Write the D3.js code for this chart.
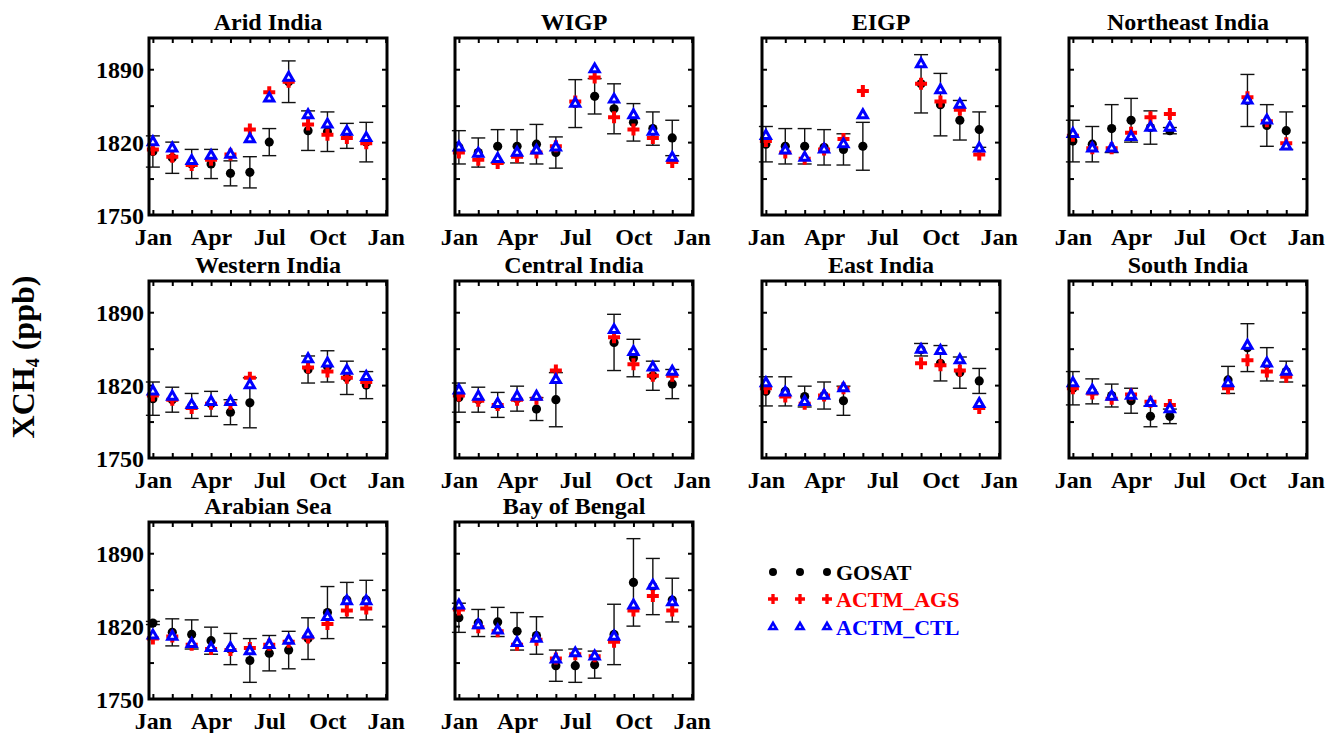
<!DOCTYPE html>
<html lang="en">
<head>
  <meta charset="utf-8" />
  <title>XCH4 seasonal cycle</title>
  <script type="text/javascript" src="https://cdn.jsdelivr.net/npm/d3@7/dist/d3.min.js"></script>
  <style>
    body { margin: 0; background: white; }
    text { font-family: "Liberation Serif", "Times New Roman", serif; font-weight: bold; }
  </style>
</head>
<body>
<script type="text/javascript">

// month index 0..11 = Jan..Dec, null = no data
var regions = ["Arid India", "WIGP", "EIGP", "Northeast India",
               "Western India", "Central India", "East India", "South India",
               "Arabian Sea", "Bay of Bengal"];

var gosat = [
  [1811, 1805, 1799, 1799, 1790, 1791, 1820, 1878, 1831, 1830, 1826, 1820],
  [1815, 1810, 1816, 1816, 1818, 1810, 1857, 1864, 1852, 1839, 1833, 1824],
  [1818, 1816, 1816, 1815, 1813, 1816, null, null, 1876, 1856, 1841, 1832],
  [1821, 1818, 1833, 1841, 1834, 1831, null, null, null, 1860, 1836, 1831],
  [1807, 1806, 1800, 1802, 1794, 1803, null, null, 1835, 1838, 1827, 1820],
  [1808, 1806, 1801, 1807, 1797, 1806, null, null, 1861, 1846, 1829, 1821],
  [1814, 1814, 1809, 1810, 1805, null, null, null, 1854, 1841, 1832, 1824],
  [1817, 1814, 1810, 1805, 1790, 1790, null, null, 1825, 1856, 1840, 1833],
  [1823, 1814, 1812, 1806, 1798, 1787, 1794, 1797, 1808, 1833, 1845, 1845],
  [1828, 1823, 1824, 1815, 1811, 1782, 1782, 1783, 1812, 1862, 1858, 1845]
];

var gosatErr = [
  [15, 15, 14, 14, 12, 15, 13, 20, 19, 19, 12, 19],
  [16, 14, 16, 16, 19, 15, 23, 17, 24, 18, 16, 17],
  [17, 17, 17, 17, 15, 23, null, null, 28, 30, 19, 17],
  [20, 17, 23, 21, 16, 3, null, null, null, 25, 20, 18],
  [16, 12, 12, 12, 12, 24, null, null, 13, 15, 16, 13],
  [14, 12, 12, 12, 11, 26, null, null, 27, 18, 14, 14],
  [14, 14, 10, 13, 14, null, null, null, 6, 17, 15, 12],
  [16, 12, 11, 12, 10, 7, null, null, 13, 23, 16, 10],
  [1.5, 13, 14, 13, 15, 21, 17, 18, 20, 25, 17, 19],
  [14, 13, 14, 18, 18, 15, 16, 13, 29, 42, 27, 21]
];

var ags = [
  [1813, 1806, 1798, 1803, 1808, 1832, 1868, 1878, 1837, 1827, 1824, 1819],
  [1810, 1803, 1800, 1806, 1810, 1816, 1859, 1882, 1844, 1832, 1824, 1801],
  [1821, 1810, 1804, 1813, 1823, 1869, null, null, 1876, 1859, 1851, 1808],
  [1826, 1814, 1814, 1829, 1844, 1847, null, null, null, 1863, 1840, 1819],
  [1810, 1806, 1798, 1802, 1802, 1827, null, null, 1837, 1833, 1827, 1823],
  [1810, 1805, 1801, 1806, 1807, 1834, null, null, 1866, 1840, 1829, 1829],
  [1817, 1809, 1802, 1810, 1817, null, null, null, 1841, 1839, 1834, 1798],
  [1817, 1812, 1807, 1811, 1804, 1801, null, null, 1817, 1844, 1833, 1828],
  [1808, 1810, 1802, 1798, 1797, 1799, 1802, 1805, 1809, 1822, 1835, 1837],
  [1836, 1819, 1815, 1802, 1807, 1789, 1793, 1791, 1805, 1835, 1849, 1835]
];

var ctl = [
  [1820, 1814, 1802, 1807, 1808, 1823, 1862, 1882, 1846, 1837, 1830, 1824],
  [1815, 1809, 1804, 1810, 1812, 1815, 1857, 1890, 1861, 1846, 1830, 1805],
  [1826, 1812, 1805, 1813, 1818, 1846, null, null, 1895, 1870, 1856, 1814],
  [1828, 1814, 1814, 1825, 1834, 1834, null, null, null, 1860, 1841, 1816],
  [1814, 1809, 1801, 1804, 1804, 1820, null, null, 1845, 1841, 1834, 1828],
  [1815, 1809, 1802, 1809, 1809, 1825, null, null, 1873, 1852, 1837, 1833],
  [1822, 1813, 1804, 1810, 1817, null, null, null, 1854, 1853, 1844, 1802],
  [1822, 1815, 1809, 1810, 1803, 1797, null, null, 1822, 1858, 1841, 1833],
  [1811, 1810, 1803, 1799, 1799, 1796, 1802, 1806, 1812, 1829, 1844, 1844],
  [1840, 1821, 1816, 1804, 1808, 1788, 1794, 1791, 1810, 1840, 1859, 1843]
];

var xTickVals = [0, 3, 6, 9, 12];
var xTickLabels = ["Jan", "Apr", "Jul", "Oct", "Jan"];
var yTickVals = [1750, 1820, 1890];
var yMinorVals = [1785, 1820, 1855, 1890];
var seriesNames = ["GOSAT", "ACTM_AGS", "ACTM_CTL"];
var seriesColors = ["black", "red", "blue"];

// Layout
var W = 1331, H = 733;
var colX = [149, 455, 762, 1069];
var rowY = [38, 281, 522];
var pw = 238, ph = 177;

var svg = d3.select("body").append("svg")
            .attr("width", W)
            .attr("height", H);

var xScale = d3.scaleLinear().domain([-0.2, 12.07]).range([0, pw]);
var yScale = d3.scaleLinear().domain([1750, 1920]).range([ph, 0]);

var circleSym = d3.symbol().type(d3.symbolCircle).size(66);
var crossSym = d3.symbol().type(d3.symbolCross).size(80);
var triSym = d3.symbol().type(d3.symbolTriangle).size(36);

function idx(arr) {
  var out = [];
  arr.forEach(function(v, i) { if (v !== null) out.push({m: i, v: v}); });
  return out;
}

regions.forEach(function(name, k) {
  var col = k % 4, row = Math.floor(k / 4);
  var g = svg.append("g")
             .attr("transform", "translate(" + colX[col] + "," + rowY[row] + ")");

  // minor ticks on all four sides, pointing inward
  var months = d3.range(0, 13);
  g.append("g").attr("class", "tick-b")
   .attr("transform", "translate(0," + ph + ")")
   .call(d3.axisBottom(xScale).tickValues(months).tickSize(-5).tickFormat(""));
  g.append("g").attr("class", "tick-t")
   .call(d3.axisTop(xScale).tickValues(months).tickSize(-5).tickFormat(""));
  g.append("g").attr("class", "tick-l")
   .call(d3.axisLeft(yScale).tickValues(yMinorVals).tickSize(-5).tickFormat(""));
  g.append("g").attr("class", "tick-r")
   .attr("transform", "translate(" + pw + ",0)")
   .call(d3.axisRight(yScale).tickValues(yMinorVals).tickSize(-5).tickFormat(""));

  // labels
  g.append("g").attr("class", "lab-x")
   .attr("transform", "translate(0," + ph + ")")
   .call(d3.axisBottom(xScale).tickValues(xTickVals).tickSize(0).tickPadding(13)
           .tickFormat(function(d, i) { return xTickLabels[i]; }));
  if (col === 0) {
    g.append("g").attr("class", "lab-y")
     .call(d3.axisLeft(yScale).tickValues(yTickVals).tickSize(0).tickPadding(5)
             .tickFormat(d3.format("d")));
  }
  g.selectAll(".domain").remove();
  g.selectAll(".tick line").attr("stroke", "black").attr("stroke-width", 2);
  g.selectAll(".lab-x text, .lab-y text")
   .attr("fill", "black")
   .style("font-size", "24px");
  g.selectAll(".lab-y text").attr("dy", "0.35em");

  // title
  g.append("text")
   .attr("x", pw / 2)
   .attr("y", -8)
   .attr("text-anchor", "middle")
   .style("font-size", "24px")
   .text(name);

  // error bars
  var gd = idx(gosat[k]).map(function(d) {
    return {m: d.m, v: d.v, e: gosatErr[k][d.m]};
  });
  var eb = g.append("g").attr("stroke", "#111").attr("stroke-width", 1.4);
  gd.forEach(function(d) {
    var x = xScale(d.m), y1 = yScale(d.v - d.e), y2 = yScale(d.v + d.e);
    eb.append("line").attr("x1", x).attr("x2", x).attr("y1", y1).attr("y2", y2);
    eb.append("line").attr("x1", x - 7).attr("x2", x + 7).attr("y1", y1).attr("y2", y1);
    eb.append("line").attr("x1", x - 7).attr("x2", x + 7).attr("y1", y2).attr("y2", y2);
  });

  g.selectAll(".gosat").data(gd).enter().append("path")
   .attr("d", circleSym)
   .attr("transform", function(d) { return "translate(" + xScale(d.m) + "," + yScale(d.v) + ")"; })
   .attr("fill", "black");

  g.selectAll(".ags").data(idx(ags[k])).enter().append("path")
   .attr("d", crossSym)
   .attr("transform", function(d) { return "translate(" + xScale(d.m) + "," + yScale(d.v) + ")"; })
   .attr("fill", "red");

  g.selectAll(".ctl").data(idx(ctl[k])).enter().append("path")
   .attr("d", triSym)
   .attr("transform", function(d) { return "translate(" + xScale(d.m) + "," + yScale(d.v) + ")"; })
   .attr("fill", "white")
   .attr("stroke", "blue")
   .attr("stroke-width", 3);

  // frame
  g.append("rect")
   .attr("width", pw).attr("height", ph)
   .attr("fill", "none")
   .attr("stroke", "black")
   .attr("stroke-width", 3);
});

// y axis title
var yt = svg.append("text")
            .attr("transform", "translate(34,357) rotate(-90)")
            .attr("text-anchor", "middle")
            .style("font-size", "32px");
yt.append("tspan").text("XCH");
yt.append("tspan").attr("dy", 5).style("font-size", "18px").text("4");
yt.append("tspan").attr("dy", -5).text(" (ppb)");

// legend
var legX = [773, 800, 827];
var legY = [572, 599, 627];
var legSyms = [d3.symbol().type(d3.symbolCircle).size(50),
               d3.symbol().type(d3.symbolCross).size(55),
               d3.symbol().type(d3.symbolTriangle).size(22)];
seriesNames.forEach(function(s, i) {
  legX.forEach(function(x) {
    var p = svg.append("path")
               .attr("d", legSyms[i])
               .attr("transform", "translate(" + x + "," + legY[i] + ")");
    if (i === 2) {
      p.attr("fill", "white").attr("stroke", "blue").attr("stroke-width", 2.6);
    } else {
      p.attr("fill", seriesColors[i]);
    }
  });
  svg.append("text")
     .attr("x", 836)
     .attr("y", legY[i] + 8)
     .attr("fill", seriesColors[i])
     .style("font-size", "22px")
     .text(s);
});

</script>
</body>
</html>
